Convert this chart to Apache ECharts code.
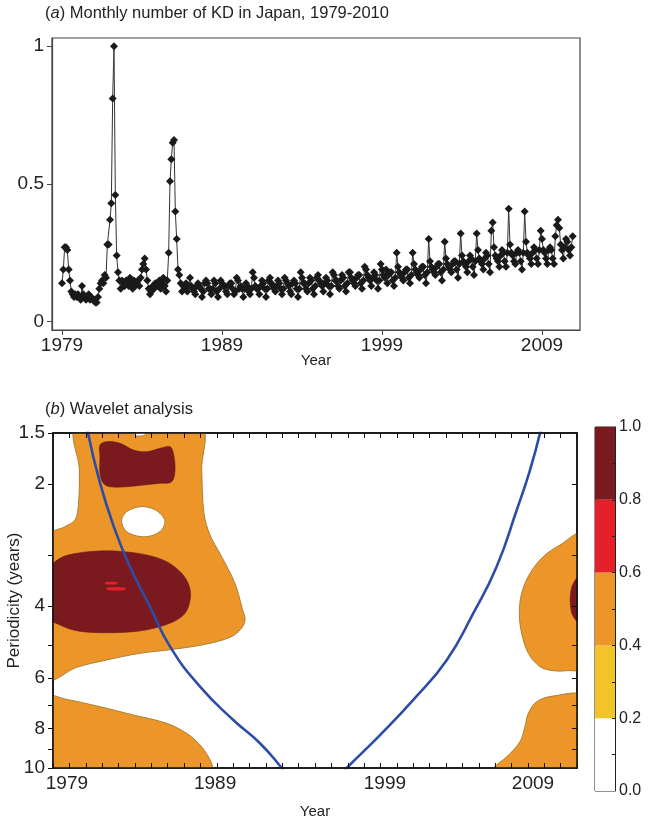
<!DOCTYPE html>
<html><head><meta charset="utf-8">
<script src="https://cdn.jsdelivr.net/npm/echarts@6/dist/echarts.min.js"></script>
<style>html,body{margin:0;padding:0;background:#fff}#c{width:648px;height:820px}</style>
</head><body><div id="c"></div>
<script>
// ---------- Panel (a): monthly number of KD (relative), Jan 1979 - Dec 2010 ----------
const startYear = 1979;
const kdMonthly = [
/*1979*/ 0.14,0.19,0.27,0.27,0.26,0.19,0.15,0.11,0.10,0.09,0.10,0.09,
/*1980*/ 0.10,0.09,0.08,0.13,0.10,0.09,0.08,0.09,0.10,0.08,0.09,0.08,
/*1981*/ 0.08,0.07,0.07,0.09,0.12,0.14,0.15,0.14,0.17,0.16,0.28,0.28,
/*1982*/ 0.37,0.43,0.81,1.00,0.46,0.24,0.18,0.15,0.12,0.15,0.14,0.13,
/*1983*/ 0.15,0.14,0.13,0.16,0.14,0.12,0.15,0.13,0.14,0.15,0.13,0.16,
/*1984*/ 0.19,0.21,0.23,0.19,0.15,0.12,0.10,0.11,0.13,0.12,0.14,0.13,
/*1985*/ 0.13,0.15,0.12,0.14,0.16,0.13,0.11,0.15,0.25,0.51,0.59,0.65,
/*1986*/ 0.66,0.40,0.30,0.19,0.17,0.14,0.11,0.13,0.12,0.14,0.11,0.13,
/*1987*/ 0.16,0.13,0.12,0.11,0.10,0.13,0.14,0.13,0.12,0.09,0.11,0.14,
/*1988*/ 0.15,0.14,0.12,0.12,0.10,0.12,0.15,0.14,0.11,0.09,0.12,0.15,
/*1989*/ 0.14,0.13,0.13,0.11,0.10,0.13,0.14,0.14,0.12,0.10,0.11,0.16,
/*1990*/ 0.15,0.12,0.13,0.12,0.09,0.12,0.14,0.13,0.11,0.10,0.12,0.18,
/*1991*/ 0.16,0.13,0.12,0.12,0.10,0.13,0.15,0.14,0.12,0.09,0.12,0.15,
/*1992*/ 0.16,0.14,0.13,0.12,0.11,0.13,0.15,0.14,0.12,0.10,0.12,0.16,
/*1993*/ 0.15,0.14,0.13,0.11,0.10,0.14,0.15,0.14,0.12,0.09,0.12,0.18,
/*1994*/ 0.16,0.14,0.14,0.12,0.11,0.14,0.16,0.15,0.12,0.10,0.13,0.16,
/*1995*/ 0.17,0.15,0.14,0.13,0.11,0.14,0.16,0.15,0.13,0.10,0.13,0.18,
/*1996*/ 0.17,0.15,0.15,0.13,0.12,0.15,0.17,0.16,0.13,0.11,0.14,0.18,
/*1997*/ 0.18,0.16,0.15,0.14,0.13,0.16,0.17,0.17,0.14,0.12,0.15,0.20,
/*1998*/ 0.19,0.17,0.16,0.15,0.13,0.16,0.18,0.17,0.15,0.12,0.15,0.21,
/*1999*/ 0.19,0.17,0.16,0.19,0.14,0.17,0.18,0.18,0.15,0.13,0.16,0.25,
/*2000*/ 0.20,0.18,0.17,0.16,0.15,0.18,0.19,0.19,0.16,0.14,0.17,0.25,
/*2001*/ 0.21,0.19,0.18,0.17,0.16,0.19,0.20,0.20,0.17,0.14,0.18,0.30,
/*2002*/ 0.22,0.20,0.19,0.18,0.17,0.20,0.21,0.21,0.18,0.15,0.19,0.29,
/*2003*/ 0.23,0.21,0.20,0.19,0.18,0.21,0.22,0.22,0.19,0.16,0.21,0.32,
/*2004*/ 0.24,0.22,0.21,0.20,0.18,0.22,0.24,0.23,0.20,0.17,0.22,0.32,
/*2005*/ 0.26,0.23,0.22,0.21,0.19,0.23,0.25,0.24,0.21,0.18,0.33,0.36,
/*2006*/ 0.27,0.24,0.23,0.22,0.20,0.24,0.26,0.25,0.22,0.20,0.25,0.41,
/*2007*/ 0.28,0.25,0.24,0.22,0.21,0.25,0.26,0.25,0.22,0.19,0.25,0.40,
/*2008*/ 0.29,0.25,0.24,0.23,0.21,0.25,0.27,0.26,0.23,0.21,0.26,0.33,
/*2009*/ 0.30,0.26,0.25,0.23,0.21,0.26,0.27,0.26,0.23,0.21,0.31,0.35,
/*2010*/ 0.37,0.34,0.28,0.26,0.23,0.27,0.30,0.29,0.26,0.24,0.27,0.31
];
const yearTicksA = [1979, 1989, 1999, 2009];
const valueTicksA = [0, 0.5, 1];

// ---------- Panel (b): wavelet power contours, [year, period in years] ----------
const powerLevels = [0, 0.2, 0.4, 0.6, 0.8, 1.0];
const powerColors = ['#ffffff', '#f3c42a', '#ec9629', '#e5202a', '#7a1a1f'];

const orangeA = [[1978.7,2.69],[1979.73,2.549],[1980.34,2.456],[1980.55,2.255],[1980.61,1.849],[1980.49,1.45],
  [1987.98,1.45],[1988.08,1.849],[1988.22,2.364],[1988.59,2.672],[1989.30,3.021],[1990.11,3.514],[1990.58,4.087],
  [1990.73,4.325],[1990.46,4.56],[1989.81,4.77],[1988.38,4.955],[1986.35,5.107],[1984.31,5.224],[1982.28,5.425],
  [1980.45,5.654],[1978.7,6.03]];
const whiteNotch = [[1983.86,1.45],[1983.92,1.51],[1984.1,1.525],[1984.4,1.525],[1984.65,1.51],[1984.76,1.45]];
const whiteHole = [[1983.19,2.456],[1983.5,2.342],[1984.31,2.277],[1985.03,2.298],[1985.53,2.364],[1985.84,2.478],
  [1985.53,2.622],[1984.72,2.698],[1983.91,2.672],[1983.4,2.598]];
const darkRed1 = [[1981.87,1.605],[1982.28,1.576],[1983.09,1.59],[1983.91,1.652],[1984.72,1.668],[1985.53,1.636],
  [1986.15,1.621],[1986.35,1.683],[1986.45,1.849],[1986.25,1.976],[1985.53,1.994],[1984.52,2.014],[1983.5,2.033],
  [1982.48,2.033],[1982.07,1.994],[1981.87,1.885],[1981.87,1.715]];
const darkRed2 = [[1978.7,3.28],[1979.43,3.05],[1980.45,2.965],[1981.87,2.926],[1983.3,2.937],[1984.72,2.993],
  [1985.94,3.108],[1986.86,3.321],[1987.33,3.581],[1987.37,3.862],[1987.06,4.165],[1986.35,4.366],[1985.13,4.535],
  [1983.91,4.62],[1981.87,4.646],[1980.45,4.595],[1979.43,4.45],[1978.7,4.25]];
const redStreak1 = [[1982.2,3.49],[1982.9,3.49],[1982.9,3.53],[1982.2,3.53]];
const redStreak2 = [[1982.3,3.6],[1983.4,3.6],[1983.4,3.65],[1982.3,3.65]];
const orangeB = [[1978.7,6.70],[1979.83,6.78],[1981.87,7.067],[1983.91,7.406],[1985.94,7.763],[1987.16,8.218],
  [1987.98,8.779],[1988.49,9.379],[1988.79,10],[1988.9,10.4],[1978.7,10.4]];
const orangeC = [[2011.3,2.66],[2009.96,2.828],[2008.94,3.021],[2008.13,3.321],[2007.62,3.719],[2007.48,4.165],
  [2007.62,4.664],[2008.03,5.224],[2008.74,5.633],[2009.55,5.763],[2010.37,5.763],[2011.3,5.67]];
const darkRedD = [[2011.3,3.32],[2010.78,3.514],[2010.61,3.719],[2010.61,4.011],[2010.78,4.245],[2011.3,4.45]];
const orangeE = [[2011.3,6.68],[2009.55,6.652],[2008.54,6.87],[2008.03,7.337],[2007.82,7.913],[2007.52,8.615],
  [2006.71,9.379],[2005.89,10],[2005.7,10.4],[2011.3,10.4]];

// contour layers: polygon + power band index (into powerColors)
const contourLayers = [
  {pts: orangeA, band: 2}, {pts: orangeB, band: 2}, {pts: orangeC, band: 2}, {pts: orangeE, band: 2},
  {pts: whiteNotch, band: 0}, {pts: whiteHole, band: 0},
  {pts: darkRed1, band: 4}, {pts: darkRed2, band: 4}, {pts: darkRedD, band: 4},
  {pts: redStreak1, band: 3}, {pts: redStreak2, band: 3}
];

// cone of influence
const coiLeft = [[1981.10,1.475],[1981.87,1.99],[1982.79,2.6],[1983.70,3.2],[1984.92,4.01],[1986.15,5.03],
  [1987.98,6.31],[1990.01,7.62],[1991.64,8.69],[1992.97,10.0],[1993.1,10.2]];
const coiRight = [[1996.85,10.15],[1996.94,10],[1998.97,8.3],[2001.0,6.8],[2003.04,5.43],[2004.67,4.16],
  [2006.09,3.2],[2007.32,2.32],[2008.13,1.85],[2008.78,1.48]];

const yearLabelsB = ['1979', '1989', '1999', '2009'];
const yearLabelPosB = [1979.85, 1988.9, 1999.27, 2008.31];
const periodLabels = [1.5, 2, 4, 6, 8, 10];
const periodTicks = [1.5, 2, 3, 4, 5, 6, 7, 8, 9, 10];

// ---------- chart ----------
const FONT = '"Liberation Sans", Arial, sans-serif';
const TXT = '#222';
const chart = echarts.init(document.getElementById('c'), null, {renderer: 'canvas', width: 648, height: 820});

const lineData = kdMonthly.map((v, i) => [startYear + i / 12, v]);

function renderContour(params, api) {
  const layer = contourLayers[api.value(2)];
  const pts = layer.pts.map(p => api.coord(p));
  const cs = params.coordSys;
  const band = layer.band;
  let stroke = 'none', lw = 0;
  if (band === 2 || band === 0) { stroke = '#a3772c'; lw = 0.9; }
  else if (band === 4) { stroke = '#6a1418'; lw = 0.6; }
  return {
    type: 'polygon',
    shape: {points: pts, smooth: 0.35},
    style: {fill: powerColors[band], stroke: stroke, lineWidth: lw},
    clipPath: {type: 'rect', shape: {x: cs.x, y: cs.y, width: cs.width, height: cs.height}}
  };
}

const cbSeries = powerColors.map((c, i) => ({
  type: 'bar', xAxisIndex: 3, yAxisIndex: 3, stack: 'cb', barWidth: '100%',
  data: [powerLevels[i + 1] - powerLevels[i]], itemStyle: {color: c}, silent: true
}));

const plain = v => String(v);

const option = {
  animation: false,
  textStyle: {fontFamily: FONT, color: TXT},
  title: [
    {text: '({i|a}) Monthly number of KD in Japan, 1979-2010', left: 45, top: 5, padding: 0,
     textStyle: {fontSize: 16.5, fontWeight: 'normal', color: TXT, fontFamily: FONT,
       rich: {i: {fontStyle: 'italic', fontSize: 16.5, color: TXT, fontFamily: FONT}}}},
    {text: '({i|b}) Wavelet analysis', left: 45, top: 401, padding: 0,
     textStyle: {fontSize: 16.5, fontWeight: 'normal', color: TXT, fontFamily: FONT,
       rich: {i: {fontStyle: 'italic', fontSize: 16.5, color: TXT, fontFamily: FONT}}}}
  ],
  grid: [
    {left: 52, top: 38, width: 528, height: 292, show: true, borderColor: '#444', borderWidth: 1.2, outerBoundsMode: 'none', containLabel: false},
    {left: 53, top: 433, width: 524, height: 335, show: true, borderColor: '#111', borderWidth: 1.5, outerBoundsMode: 'none', containLabel: false},
    {left: 595, top: 427, width: 20, height: 364, show: true, borderColor: '#222', borderWidth: 1, outerBoundsMode: 'none', containLabel: false}
  ],
  xAxis: [
    {gridIndex: 0, type: 'value', min: 1978.375, max: 2011.375,
     axisLine: {show: true, onZero: false, lineStyle: {color: '#444', width: 1.2}},
     axisTick: {show: true, customValues: yearTicksA, length: 5, lineStyle: {color: '#444'}},
     axisLabel: {customValues: yearTicksA, fontSize: 19, color: TXT, margin: 6, fontFamily: FONT, formatter: plain},
     splitLine: {show: false},
     name: 'Year', nameLocation: 'middle', nameGap: 23, nameMoveOverlap: false,
     nameTextStyle: {fontSize: 15, color: TXT, fontFamily: FONT}},
    {gridIndex: 1, type: 'value', min: 1979, max: 2011, interval: 1, z: 10,
     axisLine: {show: true, onZero: false, lineStyle: {color: '#111', width: 1.5}},
     axisTick: {show: true, inside: true, length: 5, lineStyle: {color: '#111'}},
     axisLabel: {customValues: yearLabelPosB, fontSize: 19, color: TXT, margin: 6, fontFamily: FONT,
       formatter: v => { const i = yearLabelPosB.findIndex(p => Math.abs(p - v) < 0.01); return i >= 0 ? yearLabelsB[i] : ''; }},
     splitLine: {show: false},
     name: 'Year', nameLocation: 'middle', nameGap: 36, nameMoveOverlap: false,
     nameTextStyle: {fontSize: 15, color: TXT, fontFamily: FONT}},
    {gridIndex: 1, type: 'value', position: 'top', min: 1979, max: 2011, interval: 1, z: 10,
     axisLine: {show: true, onZero: false, lineStyle: {color: '#111', width: 1.5}},
     axisTick: {show: true, inside: true, length: 5, lineStyle: {color: '#111'}},
     axisLabel: {show: false}, splitLine: {show: false}},
    {gridIndex: 2, type: 'category', data: ['scale'], show: false}
  ],
  yAxis: [
    {gridIndex: 0, type: 'value', min: -0.03, max: 1.03,
     axisLine: {show: true, onZero: false, lineStyle: {color: '#444', width: 1.2}},
     axisTick: {show: true, customValues: valueTicksA, length: 5, lineStyle: {color: '#444'}},
     axisLabel: {customValues: valueTicksA, fontSize: 19, color: TXT, margin: 8, fontFamily: FONT, formatter: plain},
     splitLine: {show: false}},
    {gridIndex: 1, type: 'log', logBase: 10, min: 1.5, max: 10, inverse: true, z: 10,
     axisLine: {show: true, onZero: false, lineStyle: {color: '#111', width: 1.5}},
     axisTick: {show: true, customValues: periodTicks, length: 5, lineStyle: {color: '#111'}},
     axisLabel: {customValues: periodLabels, fontSize: 19, color: TXT, margin: 8, fontFamily: FONT, formatter: plain},
     splitLine: {show: false}, minorTick: {show: false},
     name: 'Periodicity (years)', nameLocation: 'middle', nameGap: 30, nameRotate: 90, nameMoveOverlap: false,
     nameTextStyle: {fontSize: 17, color: TXT, fontFamily: FONT}},
    {gridIndex: 1, type: 'log', logBase: 10, min: 1.5, max: 10, inverse: true, position: 'right', z: 10,
     axisLine: {show: true, onZero: false, lineStyle: {color: '#111', width: 1.5}},
     axisTick: {show: true, inside: true, customValues: periodTicks.slice(1, -1), length: 5, lineStyle: {color: '#111'}},
     axisLabel: {show: false}, splitLine: {show: false}},
    {gridIndex: 2, type: 'value', min: 0, max: 1, position: 'right', z: 10,
     axisLine: {show: true, lineStyle: {color: '#222'}},
     axisTick: {show: true, inside: true, length: 3, customValues: [0.1,0.2,0.3,0.4,0.5,0.6,0.7,0.8,0.9], lineStyle: {color: '#222'}},
     axisLabel: {customValues: powerLevels, fontSize: 16, color: TXT, margin: 4, fontFamily: FONT, formatter: v => v.toFixed(1)},
     splitLine: {show: false}}
  ],
  series: [
    {type: 'line', xAxisIndex: 0, yAxisIndex: 0, data: lineData, symbol: 'diamond', symbolSize: 8,
     showAllSymbol: true, lineStyle: {color: '#333', width: 1}, itemStyle: {color: '#1a1a1a'}, silent: true},
    {type: 'custom', xAxisIndex: 1, yAxisIndex: 1, data: contourLayers.map((l, i) => [1995, 3, i]),
     renderItem: renderContour, silent: true, z: 2},
    {type: 'line', xAxisIndex: 1, yAxisIndex: 1, data: coiLeft, smooth: true, showSymbol: false,
     lineStyle: {color: '#2c4ca8', width: 2.6}, silent: true, z: 4},
    {type: 'line', xAxisIndex: 1, yAxisIndex: 1, data: coiRight, smooth: true, showSymbol: false,
     lineStyle: {color: '#2c4ca8', width: 2.6}, silent: true, z: 4},
    ...cbSeries
  ]
};
chart.setOption(option);
</script></body></html>
